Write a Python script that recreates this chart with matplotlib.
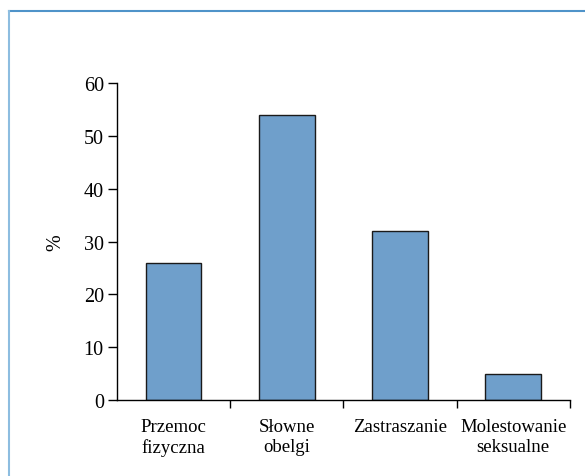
import matplotlib.pyplot as plt
from matplotlib.lines import Line2D
import numpy as np

categories = ['Przemoc\nfizyczna', 'Słowne\nobelgi', 'Zastraszanie', 'Molestowanie\nseksualne']
values = [26, 54, 32, 5]
yticks = [0, 10, 20, 30, 40, 50, 60]

plt.rcParams['font.family'] = ['Liberation Serif', 'DejaVu Serif']

fig = plt.figure(figsize=(5.85, 4.77), dpi=100)
ax = fig.add_axes([0.2, 0.159, 0.774, 0.665])

x = np.arange(len(categories))
ax.bar(x, values, width=0.49, color='#6f9fcb', edgecolor='#1a1a1a', linewidth=1.0)

ax.set_xlim(-0.5, len(categories) - 0.5)
ax.set_ylim(0, 60)
ax.set_yticks(yticks)
ax.tick_params(axis='y', labelsize=14.5, direction='out', length=6.5, width=1, pad=3)

# category separator ticks, labels centred between them
ax.set_xticks(x + 0.5)
ax.set_xticklabels([])
ax.set_xticks(x, minor=True)
ax.set_xticklabels(categories, minor=True, fontsize=13.5, linespacing=1.2)
ax.tick_params(axis='x', which='major', direction='out', length=5.5, width=1)
ax.tick_params(axis='x', which='minor', length=0, pad=13)

for side in ['top', 'right']:
    ax.spines[side].set_visible(False)
ax.spines['left'].set_linewidth(1)
ax.spines['bottom'].set_linewidth(1)

ax.set_ylabel('%', fontsize=14.5, labelpad=13)

# light blue frame lines
fig.add_artist(Line2D([0.0154, 1.0], [0.975, 0.975], color='#4f93c9', lw=1.5, transform=fig.transFigure))
fig.add_artist(Line2D([0.0154, 0.0154], [0.0, 0.975], color='#8dbde0', lw=1.5, transform=fig.transFigure))

fig.savefig('out.png', dpi=100)
